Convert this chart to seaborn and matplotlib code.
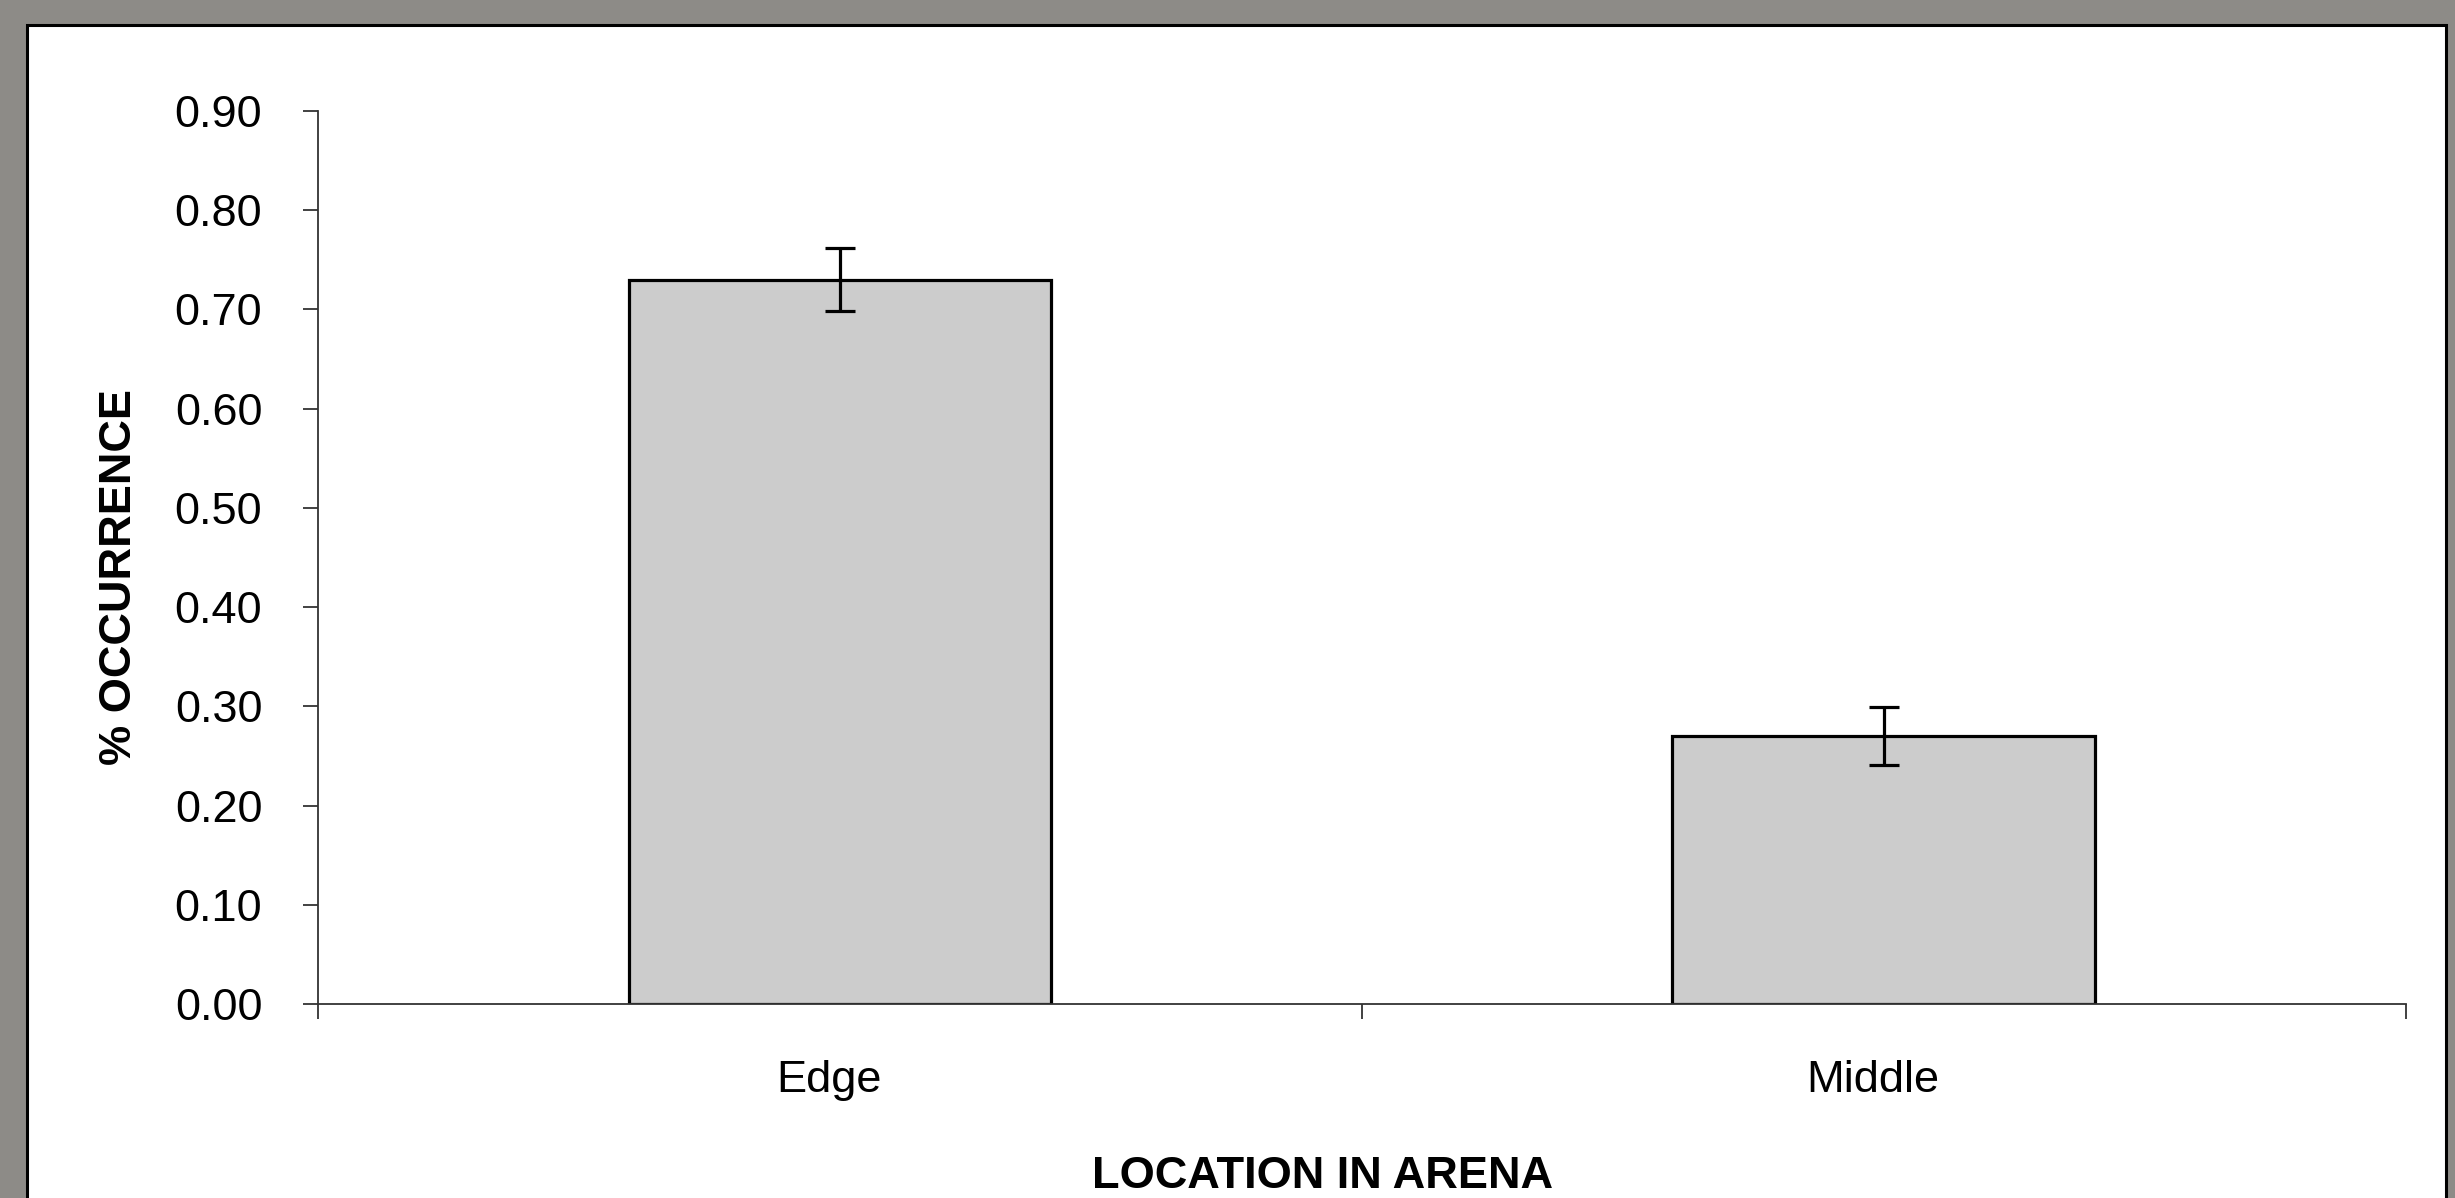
import numpy as np
import pandas as pd
import seaborn as sns
import matplotlib.pyplot as plt
from matplotlib.patches import Rectangle
from matplotlib.transforms import ScaledTranslation

locations = ["Edge", "Middle"]
occurrence = [0.73, 0.27]
errors = [0.032, 0.029]
y_ticks = [0.0, 0.1, 0.2, 0.3, 0.4, 0.5, 0.6, 0.7, 0.8, 0.9]

sns.set_style("white")
plt.rcParams['font.family'] = ['Liberation Sans', 'DejaVu Sans']
plt.rcParams['text.color'] = 'black'
plt.rcParams['axes.labelcolor'] = 'black'
plt.rcParams['xtick.color'] = 'black'
plt.rcParams['ytick.color'] = 'black'

df = pd.DataFrame({"location": locations, "occurrence": occurrence})

fig = plt.figure(figsize=(24.55, 11.98), dpi=100)
fig.patch.set_facecolor("#8d8b87")

# white slide panel behind the chart
panel = Rectangle((0.011, -0.02), 0.9853, 0.999, transform=fig.transFigure,
                  facecolor="white", edgecolor="black", linewidth=2.2, zorder=-5)
fig.patches.append(panel)

ax = fig.add_axes([0.1295, 0.1619, 0.8505, 0.7454])
ax.patch.set_alpha(0)

sns.barplot(data=df, x="location", y="occurrence", ax=ax, color="#cccccc",
            width=0.405, edgecolor="black", linewidth=2.3, saturation=1)
ax.errorbar(np.arange(len(locations)), occurrence, yerr=errors, fmt="none",
            ecolor="black", elinewidth=2.3, capsize=11, capthick=2.3, zorder=5)

ax.set_xlim(-0.5, 1.5)
ax.set_ylim(0, 0.9)
ax.set_yticks(y_ticks)
ax.set_yticklabels([f"{v:.2f}" for v in y_ticks])
ax.set_xticks([-0.5, 0.5, 1.5], minor=True)

for side in ["top", "right"]:
    ax.spines[side].set_visible(False)
for side in ["left", "bottom"]:
    ax.spines[side].set_color("#333333")
    ax.spines[side].set_linewidth(1.3)

ax.tick_params(axis="y", which="major", left=True, length=11, width=1.3,
               color="#333333", labelsize=32.5, pad=29)
ax.tick_params(axis="x", which="major", bottom=False, labelsize=32.5, pad=37)
ax.tick_params(axis="x", which="minor", bottom=True, length=11, width=1.3,
               color="#333333")

# category labels sit slightly left of the bar centres
shift = ScaledTranslation(-0.11, 0, fig.dpi_scale_trans)
for lbl in ax.get_xticklabels():
    lbl.set_transform(lbl.get_transform() + shift)

ax.set_xlabel("LOCATION IN ARENA", fontsize=32.5, fontweight="bold")
ax.set_ylabel("% OCCURRENCE", fontsize=32.5, fontweight="bold")
ax.xaxis.set_label_coords(0.481, -0.17)
ax.yaxis.set_label_coords(-0.085, 0.478)

plt.savefig("out.png", dpi=100, facecolor=fig.get_facecolor())
plt.close()
